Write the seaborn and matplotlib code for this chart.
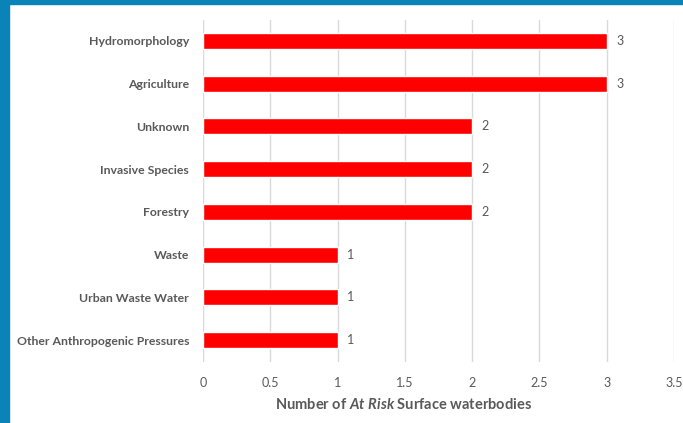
import matplotlib
matplotlib.use("Agg")
import matplotlib.pyplot as plt
import seaborn as sns
import pandas as pd

categories = ["Hydromorphology", "Agriculture", "Unknown", "Invasive Species",
              "Forestry", "Waste", "Urban Waste Water", "Other Anthropogenic Pressures"]
values = [3, 3, 2, 2, 2, 1, 1, 1]
xticks = [0, 0.5, 1, 1.5, 2, 2.5, 3, 3.5]
xtick_labels = ["0", "0.5", "1", "1.5", "2", "2.5", "3", "3.5"]

sns.set_theme(style="white")
plt.rcParams['font.family'] = ['Lato', 'DejaVu Sans']
plt.rcParams['mathtext.fontset'] = 'custom'
plt.rcParams['mathtext.it'] = 'Lato:italic:bold'
plt.rcParams['mathtext.rm'] = 'Lato:bold'

df = pd.DataFrame({"cat": categories, "val": values})

fig = plt.figure(figsize=(6.83, 4.23), dpi=100)
fig.patch.set_facecolor("white")
# blue frame on left and top
fig.add_artist(plt.Rectangle((0, 0), 9/683, 1, transform=fig.transFigure, color="#0A84B8", zorder=0))
fig.add_artist(plt.Rectangle((0, 1-4/423), 1, 4/423, transform=fig.transFigure, color="#0A84B8", zorder=0))

ax = fig.add_axes([203/683, 1-361.5/423, (674-203)/683, (361.5-19.5)/423])
sns.barplot(data=df, x="val", y="cat", orient="h", color="#FF0000", width=0.375,
            saturation=1, ax=ax, zorder=3)
ax.set_xlim(0, 3.5)
ax.set_xticks(xticks)
ax.set_xticklabels(xtick_labels, color="#595959", fontsize=9)
ax.tick_params(axis="x", length=0, pad=11)
ax.tick_params(axis="y", length=0, pad=10)
for lab in ax.get_yticklabels():
    lab.set_fontweight("bold")
    lab.set_color("#595959")
    lab.set_fontsize(8.8)
ax.grid(axis="x", color="#D9D9D9", linewidth=1, zorder=0)
ax.set_axisbelow(True)
for s in ax.spines.values():
    s.set_visible(False)
ax.set_ylabel("")
ax.set_xlabel(r"Number of $\mathit{At\ Risk}$ Surface waterbodies", fontsize=10.5,
              fontweight="bold", color="#595959")
ax.xaxis.set_label_coords((404-203)/(674-203), -0.103)

for i, v in enumerate(values):
    ax.text(v + 0.07, i, str(v), va="center", ha="left", fontsize=9, color="#595959")

fig.savefig("out.png", dpi=100, facecolor="white")
